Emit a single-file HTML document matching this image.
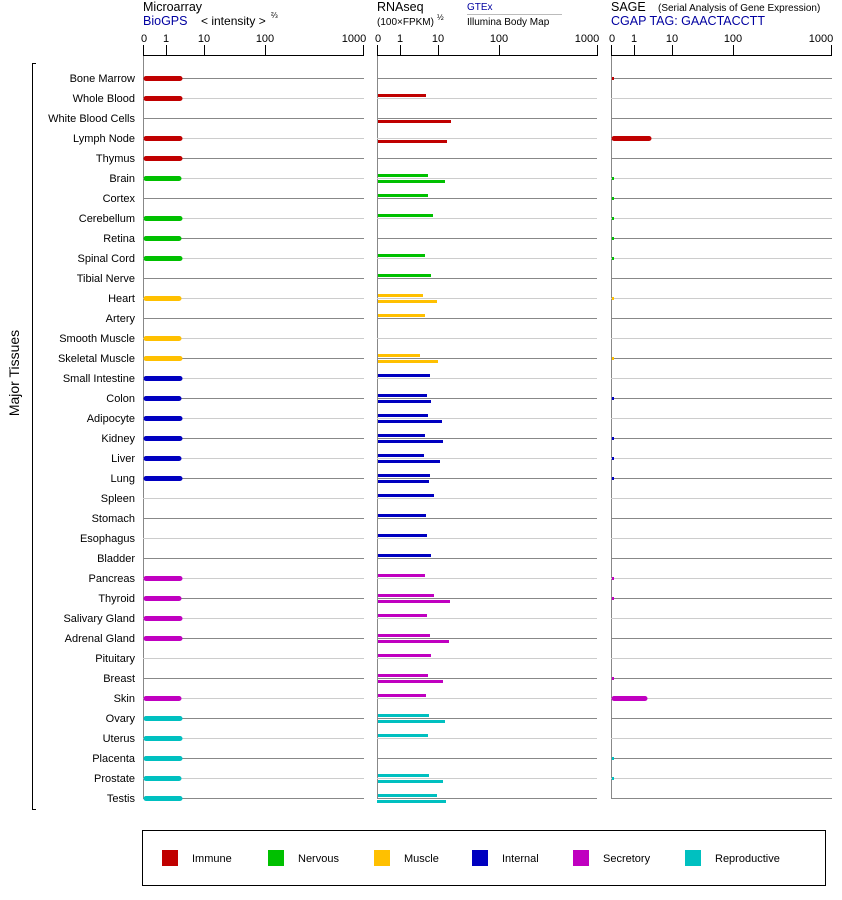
<!DOCTYPE html>
<html><head><meta charset="utf-8"><style>
body{margin:0;background:#fff;}
svg{display:block;font-family:"Liberation Sans",Arial,sans-serif;}
</style></head><body>
<svg width="842" height="900" xmlns="http://www.w3.org/2000/svg">
<rect width="842" height="900" fill="#fff"/>
<!-- headers -->
<text x="143" y="11" font-size="12.5" fill="#000">Microarray</text>
<text x="143" y="25" font-size="12.5" fill="#0000a0">BioGPS</text>
<text x="201" y="25" font-size="12" fill="#000">&lt; intensity &gt;</text>
<text x="271" y="18" font-size="8" fill="#000">⅔</text>
<text x="377" y="11" font-size="12.5" fill="#000">RNAseq</text>
<text x="377" y="25" font-size="10" fill="#000">(100×FPKM)</text>
<text x="437" y="20" font-size="8" fill="#000">½</text>
<text x="467" y="10" font-size="10" fill="#0000a0">GTEx</text>
<line x1="467" y1="14.5" x2="562" y2="14.5" stroke="#bbb"/>
<text x="467" y="25" font-size="10" fill="#000">Illumina Body Map</text>
<text x="611" y="11" font-size="12.5" fill="#000">SAGE</text>
<text x="658" y="11" font-size="10" fill="#000">(Serial Analysis of Gene Expression)</text>
<text x="611" y="25" font-size="12.5" fill="#0000a0">CGAP TAG: GAACTACCTT</text>
<!-- axes -->
<g stroke="#000" fill="none">
<path d="M143.5,45 V55.5 H363.5 V45 M166.5,45 V55 M204.5,45 V55 M265.5,45 V55"/>
<path d="M377.5,45 V55.5 H597.5 V45 M400.5,45 V55 M438.5,45 V55 M499.5,45 V55"/>
<path d="M611.5,45 V55.5 H831.5 V45 M634.5,45 V55 M672.5,45 V55 M733.5,45 V55"/>
</g>
<g font-size="11" fill="#000" text-anchor="middle">
<text x="144" y="42">0</text><text x="166" y="42">1</text><text x="204" y="42">10</text><text x="265" y="42">100</text><text x="354" y="42">1000</text>
<text x="378" y="42">0</text><text x="400" y="42">1</text><text x="438" y="42">10</text><text x="499" y="42">100</text><text x="587" y="42">1000</text>
<text x="612" y="42">0</text><text x="634" y="42">1</text><text x="672" y="42">10</text><text x="733" y="42">100</text><text x="821" y="42">1000</text>
</g>
<g stroke="#888">
<line x1="143.5" y1="56" x2="143.5" y2="798"/>
<line x1="377.5" y1="56" x2="377.5" y2="798"/>
<line x1="611.5" y1="56" x2="611.5" y2="798"/>
</g>
<!-- row lines -->
<g id="rows" stroke-width="1">
<g stroke="#888">
<path d="M143,78.5H364M377,78.5H597M611,78.5H832 M143,118.5H364M377,118.5H597M611,118.5H832 M143,158.5H364M377,158.5H597M611,158.5H832 M143,198.5H364M377,198.5H597M611,198.5H832 M143,238.5H364M377,238.5H597M611,238.5H832 M143,278.5H364M377,278.5H597M611,278.5H832 M143,318.5H364M377,318.5H597M611,318.5H832 M143,358.5H364M377,358.5H597M611,358.5H832 M143,398.5H364M377,398.5H597M611,398.5H832 M143,438.5H364M377,438.5H597M611,438.5H832 M143,478.5H364M377,478.5H597M611,478.5H832 M143,518.5H364M377,518.5H597M611,518.5H832 M143,558.5H364M377,558.5H597M611,558.5H832 M143,598.5H364M377,598.5H597M611,598.5H832 M143,638.5H364M377,638.5H597M611,638.5H832 M143,678.5H364M377,678.5H597M611,678.5H832 M143,718.5H364M377,718.5H597M611,718.5H832 M143,758.5H364M377,758.5H597M611,758.5H832 M143,798.5H364M377,798.5H597M611,798.5H832"/>
</g>
<g stroke="#ccc">
<path d="M143,98.5H364M377,98.5H597M611,98.5H832 M143,138.5H364M377,138.5H597M611,138.5H832 M143,178.5H364M377,178.5H597M611,178.5H832 M143,218.5H364M377,218.5H597M611,218.5H832 M143,258.5H364M377,258.5H597M611,258.5H832 M143,298.5H364M377,298.5H597M611,298.5H832 M143,338.5H364M377,338.5H597M611,338.5H832 M143,378.5H364M377,378.5H597M611,378.5H832 M143,418.5H364M377,418.5H597M611,418.5H832 M143,458.5H364M377,458.5H597M611,458.5H832 M143,498.5H364M377,498.5H597M611,498.5H832 M143,538.5H364M377,538.5H597M611,538.5H832 M143,578.5H364M377,578.5H597M611,578.5H832 M143,618.5H364M377,618.5H597M611,618.5H832 M143,658.5H364M377,658.5H597M611,658.5H832 M143,698.5H364M377,698.5H597M611,698.5H832 M143,738.5H364M377,738.5H597M611,738.5H832 M143,778.5H364M377,778.5H597M611,778.5H832"/>
</g>
</g>
<!-- labels -->
<g font-size="11" fill="#000" text-anchor="end">
<text x="135" y="82">Bone Marrow</text><text x="135" y="102">Whole Blood</text><text x="135" y="122">White Blood Cells</text><text x="135" y="142">Lymph Node</text><text x="135" y="162">Thymus</text>
<text x="135" y="182">Brain</text><text x="135" y="202">Cortex</text><text x="135" y="222">Cerebellum</text><text x="135" y="242">Retina</text><text x="135" y="262">Spinal Cord</text><text x="135" y="282">Tibial Nerve</text>
<text x="135" y="302">Heart</text><text x="135" y="322">Artery</text><text x="135" y="342">Smooth Muscle</text><text x="135" y="362">Skeletal Muscle</text>
<text x="135" y="382">Small Intestine</text><text x="135" y="402">Colon</text><text x="135" y="422">Adipocyte</text><text x="135" y="442">Kidney</text><text x="135" y="462">Liver</text><text x="135" y="482">Lung</text><text x="135" y="502">Spleen</text><text x="135" y="522">Stomach</text><text x="135" y="542">Esophagus</text><text x="135" y="562">Bladder</text>
<text x="135" y="582">Pancreas</text><text x="135" y="602">Thyroid</text><text x="135" y="622">Salivary Gland</text><text x="135" y="642">Adrenal Gland</text><text x="135" y="662">Pituitary</text><text x="135" y="682">Breast</text><text x="135" y="702">Skin</text>
<text x="135" y="722">Ovary</text><text x="135" y="742">Uterus</text><text x="135" y="762">Placenta</text><text x="135" y="782">Prostate</text><text x="135" y="802">Testis</text>
</g>
<path d="M36,63.5H32.5V809.5H36" stroke="#000" fill="none"/>
<text transform="translate(19,373) rotate(-90)" font-size="14" text-anchor="middle" fill="#000">Major Tissues</text>
<!-- microarray bars -->
<g stroke-width="5" stroke-linecap="round">
<path stroke="#c00000" d="M146,78.5H180M146,98.5H180M146,138.5H180M146,158.5H180"/>
<path stroke="#00c000" d="M146,178.5H179M146,218.5H180M146,238.5H179M146,258.5H180"/>
<path stroke="#ffc000" d="M146,298.5H179M146,338.5H179M146,358.5H180"/>
<path stroke="#0000c0" d="M146,378.5H180M146,398.5H179M146,418.5H180M146,438.5H180M146,458.5H179M146,478.5H180"/>
<path stroke="#c000c0" d="M146,578.5H180M146,598.5H179M146,618.5H180M146,638.5H180M146,698.5H179"/>
<path stroke="#00c0c0" d="M146,718.5H180M146,738.5H180M146,758.5H180M146,778.5H179M146,798.5H180"/>
</g>
<!-- RNAseq bars -->
<g>
<g fill="#c00000"><rect x="378" y="94" width="48" height="3"/><rect x="378" y="120" width="73" height="3"/><rect x="378" y="140" width="69" height="3"/></g>
<g fill="#00c000"><rect x="378" y="174" width="50" height="3"/><rect x="378" y="180" width="67" height="3"/><rect x="378" y="194" width="50" height="3"/><rect x="378" y="214" width="55" height="3"/><rect x="378" y="254" width="47" height="3"/><rect x="378" y="274" width="53" height="3"/></g>
<g fill="#ffc000"><rect x="378" y="294" width="45" height="3"/><rect x="378" y="300" width="59" height="3"/><rect x="378" y="314" width="47" height="3"/><rect x="378" y="354" width="42" height="3"/><rect x="378" y="360" width="60" height="3"/></g>
<g fill="#0000c0"><rect x="378" y="374" width="52" height="3"/><rect x="378" y="394" width="49" height="3"/><rect x="378" y="400" width="53" height="3"/><rect x="378" y="414" width="50" height="3"/><rect x="378" y="420" width="64" height="3"/><rect x="378" y="434" width="47" height="3"/><rect x="378" y="440" width="65" height="3"/><rect x="378" y="454" width="46" height="3"/><rect x="378" y="460" width="62" height="3"/><rect x="378" y="474" width="52" height="3"/><rect x="378" y="480" width="51" height="3"/><rect x="378" y="494" width="56" height="3"/><rect x="378" y="514" width="48" height="3"/><rect x="378" y="534" width="49" height="3"/><rect x="378" y="554" width="53" height="3"/></g>
<g fill="#c000c0"><rect x="378" y="574" width="47" height="3"/><rect x="378" y="594" width="56" height="3"/><rect x="378" y="600" width="72" height="3"/><rect x="378" y="614" width="49" height="3"/><rect x="378" y="634" width="52" height="3"/><rect x="378" y="640" width="71" height="3"/><rect x="378" y="654" width="53" height="3"/><rect x="378" y="674" width="50" height="3"/><rect x="378" y="680" width="65" height="3"/><rect x="378" y="694" width="48" height="3"/></g>
<g fill="#00c0c0"><rect x="378" y="714" width="51" height="3"/><rect x="378" y="720" width="67" height="3"/><rect x="378" y="734" width="50" height="3"/><rect x="378" y="774" width="51" height="3"/><rect x="378" y="780" width="65" height="3"/><rect x="378" y="794" width="59" height="3"/><rect x="377" y="800" width="69" height="3"/></g>
</g>
<!-- SAGE -->
<g stroke-width="5" stroke-linecap="round">
<path stroke="#c00000" d="M614,138.5H649"/>
<path stroke="#c000c0" d="M614,698.5H645"/>
</g>
<g>
<g fill="#c00000"><rect x="612" y="77" width="2" height="3"/></g>
<g fill="#00c000"><rect x="612" y="177" width="2" height="3"/><rect x="612" y="197" width="2" height="3"/><rect x="612" y="217" width="2" height="3"/><rect x="612" y="237" width="2" height="3"/><rect x="612" y="257" width="2" height="3"/></g>
<g fill="#ffc000"><rect x="612" y="297" width="2" height="3"/><rect x="612" y="357" width="2" height="3"/></g>
<g fill="#0000c0"><rect x="612" y="397" width="2" height="3"/><rect x="612" y="437" width="2" height="3"/><rect x="612" y="457" width="2" height="3"/><rect x="612" y="477" width="2" height="3"/></g>
<g fill="#c000c0"><rect x="612" y="577" width="2" height="3"/><rect x="612" y="597" width="2" height="3"/><rect x="612" y="677" width="2" height="3"/></g>
<g fill="#00c0c0"><rect x="612" y="757" width="2" height="3"/><rect x="612" y="777" width="2" height="3"/></g>
</g>
<!-- legend -->
<rect x="142.5" y="830.5" width="683" height="55" fill="none" stroke="#000"/>
<rect x="162" y="850" width="16" height="16" fill="#c00000"/>
<rect x="268" y="850" width="16" height="16" fill="#00c000"/>
<rect x="374" y="850" width="16" height="16" fill="#ffc000"/>
<rect x="472" y="850" width="16" height="16" fill="#0000c0"/>
<rect x="573" y="850" width="16" height="16" fill="#c000c0"/>
<rect x="685" y="850" width="16" height="16" fill="#00c0c0"/>
<g font-size="11" fill="#000">
<text x="192" y="862">Immune</text><text x="298" y="862">Nervous</text><text x="404" y="862">Muscle</text><text x="502" y="862">Internal</text><text x="603" y="862">Secretory</text><text x="715" y="862">Reproductive</text>
</g>
</svg>
</body></html>
